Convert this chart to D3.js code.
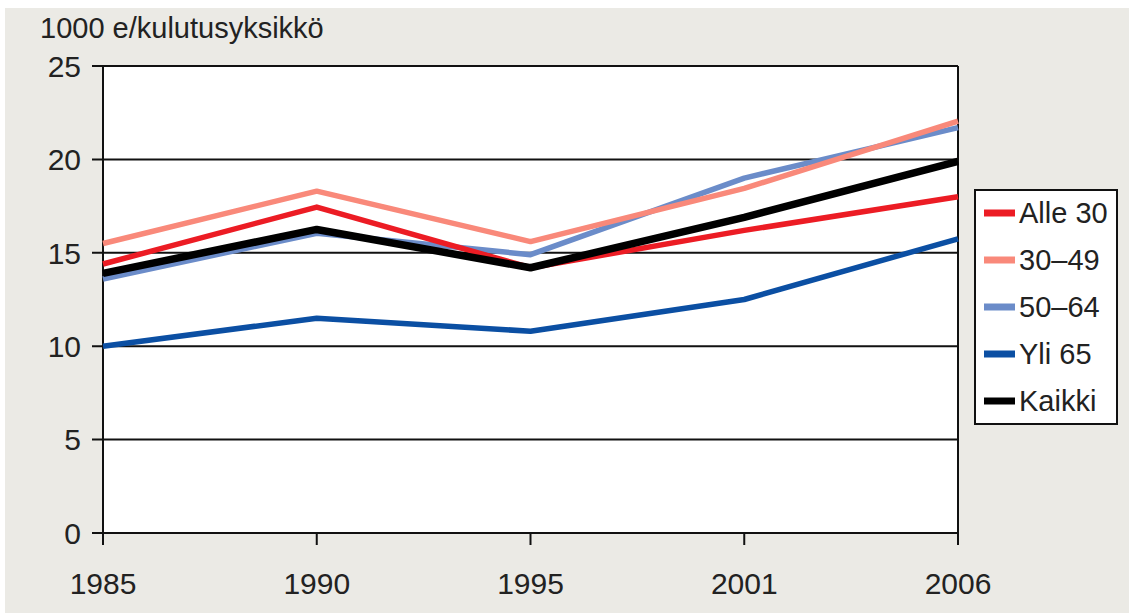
<!DOCTYPE html>
<html><head><meta charset="utf-8">
<script src="https://cdn.jsdelivr.net/npm/d3@7"></script>
<style>
html,body{margin:0;padding:0;background:#fff;}
text{font-family:"Liberation Sans",Arial,sans-serif;fill:#222;}
</style></head>
<body>
<script>
const years = ["1985","1990","1995","2001","2006"];
const yTicks = [0,5,10,15,20,25];
const unitLabel = "1000 e/kulutusyksikkö";
const seriesNames = ["Alle 30","30–49","50–64","Yli 65","Kaikki"];
const alle30 = [14.4,17.45,14.2,16.2,18.0];
const v30_49 = [15.5,18.3,15.6,18.45,22.05];
const v50_64 = [13.6,16.05,14.9,19.0,21.7];
const yli65  = [10.0,11.5,10.8,12.5,15.75];
const kaikki = [13.9,16.25,14.2,16.9,19.9];
const seriesValues = [alle30,v30_49,v50_64,yli65,kaikki];
const colors = ["#ec1c24","#f9897a","#6b8cc9","#0b4fa3","#000000"];
const widths = [5.5,5.5,5.5,5.5,7.5];
const drawOrder = [3,2,1,0,4];

const W=1129,H=615;
const svg=d3.select("body").append("svg").attr("width",W).attr("height",H);
svg.append("rect").attr("x",5).attr("y",8).attr("width",W-5).attr("height",605).attr("fill","#ebeae5");

const m={left:103,right:958,top:66,bottom:533};
const x=d3.scalePoint().domain(years).range([m.left,m.right]);
const y=d3.scaleLinear().domain([0,25]).range([m.bottom,m.top]);

svg.append("rect").attr("x",m.left).attr("y",m.top).attr("width",m.right-m.left).attr("height",m.bottom-m.top).attr("fill","#fff");

svg.append("g").selectAll("line").data(yTicks).join("line")
  .attr("x1",m.left-11).attr("x2",m.right).attr("y1",d=>y(d)).attr("y2",d=>y(d))
  .attr("stroke","#111").attr("stroke-width",2);

svg.append("g").selectAll("text").data(yTicks).join("text")
  .attr("x",81).attr("y",d=>y(d)).attr("dy","0.36em").attr("text-anchor","end")
  .attr("font-size",30).text(d=>d);

svg.append("line").attr("x1",m.left).attr("x2",m.left).attr("y1",m.top).attr("y2",m.bottom+12).attr("stroke","#111").attr("stroke-width",2);
svg.append("line").attr("x1",m.right).attr("x2",m.right).attr("y1",m.top).attr("y2",m.bottom+12).attr("stroke","#111").attr("stroke-width",2);

svg.append("g").selectAll("line").data(years).join("line")
  .attr("x1",d=>x(d)).attr("x2",d=>x(d)).attr("y1",m.bottom).attr("y2",m.bottom+12)
  .attr("stroke","#111").attr("stroke-width",2);
svg.append("g").selectAll("text").data(years).join("text")
  .attr("x",d=>x(d)).attr("y",594).attr("text-anchor","middle").attr("font-size",30).text(d=>d);

svg.append("text").attr("x",40).attr("y",38).attr("font-size",29).text(unitLabel);

const line=d3.line().x((d,i)=>x(years[i])).y(d=>y(d));
drawOrder.forEach(k=>{
  svg.append("path").datum(seriesValues[k]).attr("d",line).attr("fill","none")
    .attr("stroke",colors[k]).attr("stroke-width",widths[k]).attr("stroke-linejoin","round");
});

const lg=svg.append("g");
lg.append("rect").attr("x",975).attr("y",190).attr("width",142).attr("height",234).attr("fill","#fff").attr("stroke","#111").attr("stroke-width",2);
const rowY=d3.scaleLinear().domain([0,4]).range([213,401]);
seriesNames.forEach((n,i)=>{
  lg.append("line").attr("x1",984).attr("x2",1015).attr("y1",rowY(i)).attr("y2",rowY(i)).attr("stroke",colors[i]).attr("stroke-width",7);
  lg.append("text").attr("x",1019).attr("y",rowY(i)).attr("dy","0.36em").attr("font-size",29).text(n);
});
</script>
</body></html>
